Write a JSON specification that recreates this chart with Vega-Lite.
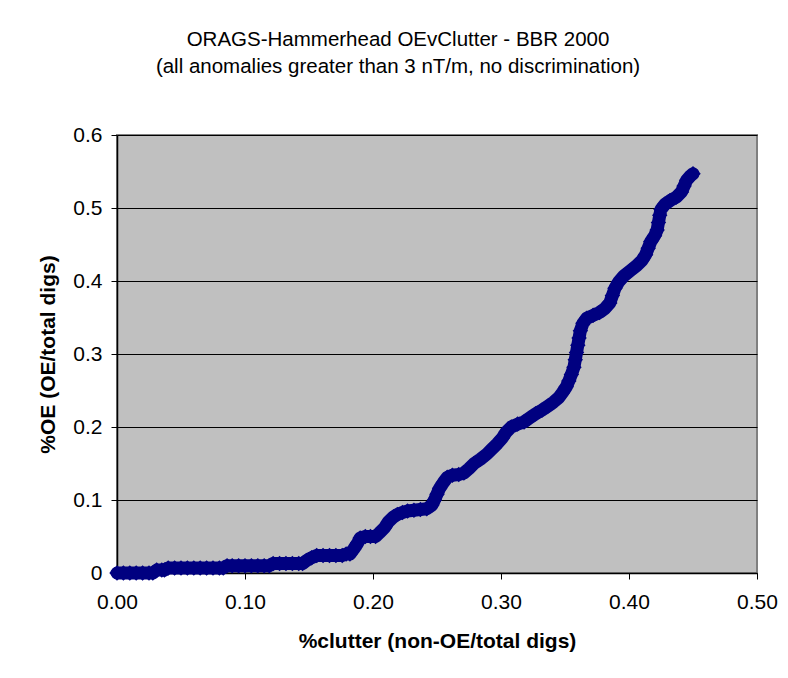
{
  "$schema": "https://vega.github.io/schema/vega-lite/v6.json",
  "width": 640,
  "height": 438,
  "autosize": "none",
  "padding": {"left": 117, "top": 135, "right": 31, "bottom": 105},
  "background": "white",
  "title": {
    "text": ["ORAGS-Hammerhead OEvClutter - BBR 2000", "(all anomalies greater than 3 nT/m, no discrimination)"],
    "font": "Liberation Sans",
    "fontSize": 20.5,
    "fontWeight": "normal",
    "color": "#000000",
    "lineHeight": 27,
    "anchor": "middle",
    "frame": "group",
    "dx": -39,
    "offset": 47
  },
  "config": {
    "view": {"fill": "#C0C0C0", "stroke": "#808080", "strokeWidth": 2},
    "axis": {
      "labelFont": "Liberation Sans",
      "titleFont": "Liberation Sans",
      "labelFontSize": 21,
      "titleFontSize": 21,
      "labelColor": "#000000",
      "titleColor": "#000000",
      "tickColor": "#000000",
      "domainColor": "#000000",
      "domainWidth": 1.5,
      "tickSize": 6,
      "tickWidth": 1
    }
  },
  "data": {
    "values": [
      {"clutter": 0.000, "oe": 0.000}, {"clutter": 0.005, "oe": 0.000}, {"clutter": 0.010, "oe": 0.000},
      {"clutter": 0.015, "oe": 0.000}, {"clutter": 0.020, "oe": 0.000}, {"clutter": 0.025, "oe": 0.000},
      {"clutter": 0.028, "oe": 0.000}, {"clutter": 0.031, "oe": 0.004}, {"clutter": 0.035, "oe": 0.004},
      {"clutter": 0.037, "oe": 0.004}, {"clutter": 0.040, "oe": 0.007}, {"clutter": 0.045, "oe": 0.007},
      {"clutter": 0.050, "oe": 0.007}, {"clutter": 0.055, "oe": 0.007}, {"clutter": 0.060, "oe": 0.007},
      {"clutter": 0.065, "oe": 0.007}, {"clutter": 0.070, "oe": 0.007}, {"clutter": 0.075, "oe": 0.007},
      {"clutter": 0.080, "oe": 0.007}, {"clutter": 0.083, "oe": 0.007}, {"clutter": 0.086, "oe": 0.010},
      {"clutter": 0.090, "oe": 0.010}, {"clutter": 0.095, "oe": 0.010}, {"clutter": 0.100, "oe": 0.010},
      {"clutter": 0.105, "oe": 0.010}, {"clutter": 0.110, "oe": 0.010}, {"clutter": 0.115, "oe": 0.010},
      {"clutter": 0.119, "oe": 0.010}, {"clutter": 0.122, "oe": 0.013}, {"clutter": 0.127, "oe": 0.013},
      {"clutter": 0.132, "oe": 0.013}, {"clutter": 0.137, "oe": 0.013}, {"clutter": 0.142, "oe": 0.013},
      {"clutter": 0.145, "oe": 0.013}, {"clutter": 0.148, "oe": 0.017}, {"clutter": 0.152, "oe": 0.021},
      {"clutter": 0.156, "oe": 0.024}, {"clutter": 0.161, "oe": 0.024}, {"clutter": 0.166, "oe": 0.024},
      {"clutter": 0.171, "oe": 0.024}, {"clutter": 0.176, "oe": 0.024}, {"clutter": 0.179, "oe": 0.026},
      {"clutter": 0.182, "oe": 0.026}, {"clutter": 0.185, "oe": 0.033}, {"clutter": 0.188, "oe": 0.041},
      {"clutter": 0.190, "oe": 0.048}, {"clutter": 0.194, "oe": 0.050}, {"clutter": 0.198, "oe": 0.050},
      {"clutter": 0.202, "oe": 0.050}, {"clutter": 0.205, "oe": 0.055}, {"clutter": 0.209, "oe": 0.062},
      {"clutter": 0.212, "oe": 0.070}, {"clutter": 0.216, "oe": 0.077}, {"clutter": 0.219, "oe": 0.080},
      {"clutter": 0.223, "oe": 0.083}, {"clutter": 0.227, "oe": 0.085}, {"clutter": 0.232, "oe": 0.086},
      {"clutter": 0.237, "oe": 0.087}, {"clutter": 0.242, "oe": 0.088}, {"clutter": 0.246, "oe": 0.093},
      {"clutter": 0.248, "oe": 0.100}, {"clutter": 0.250, "oe": 0.108}, {"clutter": 0.252, "oe": 0.116},
      {"clutter": 0.255, "oe": 0.124}, {"clutter": 0.258, "oe": 0.131}, {"clutter": 0.262, "oe": 0.134},
      {"clutter": 0.267, "oe": 0.135}, {"clutter": 0.271, "oe": 0.137}, {"clutter": 0.275, "oe": 0.143},
      {"clutter": 0.279, "oe": 0.150}, {"clutter": 0.284, "oe": 0.156}, {"clutter": 0.289, "oe": 0.163},
      {"clutter": 0.293, "oe": 0.170}, {"clutter": 0.297, "oe": 0.177}, {"clutter": 0.301, "oe": 0.185},
      {"clutter": 0.304, "oe": 0.193}, {"clutter": 0.308, "oe": 0.200}, {"clutter": 0.313, "oe": 0.204},
      {"clutter": 0.318, "oe": 0.207}, {"clutter": 0.322, "oe": 0.212}, {"clutter": 0.327, "oe": 0.218},
      {"clutter": 0.332, "oe": 0.223}, {"clutter": 0.337, "oe": 0.229}, {"clutter": 0.341, "oe": 0.234},
      {"clutter": 0.345, "oe": 0.240}, {"clutter": 0.348, "oe": 0.247}, {"clutter": 0.351, "oe": 0.255},
      {"clutter": 0.353, "oe": 0.263}, {"clutter": 0.355, "oe": 0.272}, {"clutter": 0.357, "oe": 0.282},
      {"clutter": 0.358, "oe": 0.292}, {"clutter": 0.359, "oe": 0.302}, {"clutter": 0.360, "oe": 0.312},
      {"clutter": 0.361, "oe": 0.322}, {"clutter": 0.362, "oe": 0.332}, {"clutter": 0.364, "oe": 0.342},
      {"clutter": 0.367, "oe": 0.349}, {"clutter": 0.372, "oe": 0.353}, {"clutter": 0.377, "oe": 0.357},
      {"clutter": 0.381, "oe": 0.362}, {"clutter": 0.385, "oe": 0.370}, {"clutter": 0.387, "oe": 0.380},
      {"clutter": 0.389, "oe": 0.390}, {"clutter": 0.392, "oe": 0.399}, {"clutter": 0.396, "oe": 0.407},
      {"clutter": 0.401, "oe": 0.414}, {"clutter": 0.406, "oe": 0.421}, {"clutter": 0.410, "oe": 0.428},
      {"clutter": 0.413, "oe": 0.436}, {"clutter": 0.415, "oe": 0.445}, {"clutter": 0.417, "oe": 0.454},
      {"clutter": 0.420, "oe": 0.462}, {"clutter": 0.422, "oe": 0.470}, {"clutter": 0.423, "oe": 0.480},
      {"clutter": 0.424, "oe": 0.490}, {"clutter": 0.425, "oe": 0.498}, {"clutter": 0.428, "oe": 0.505},
      {"clutter": 0.432, "oe": 0.510}, {"clutter": 0.437, "oe": 0.515}, {"clutter": 0.441, "oe": 0.522},
      {"clutter": 0.443, "oe": 0.530}, {"clutter": 0.445, "oe": 0.538}, {"clutter": 0.448, "oe": 0.544},
      {"clutter": 0.450, "oe": 0.547}
    ]
  },
  "encoding": {
    "x": {
      "field": "clutter",
      "type": "quantitative",
      "scale": {"domain": [0, 0.5], "nice": false, "zero": false},
      "axis": {
        "title": "%clutter (non-OE/total digs)",
        "values": [0, 0.1, 0.2, 0.3, 0.4, 0.5],
        "format": ".2f",
        "grid": false,
        "labelPadding": 12,
        "titlePadding": 18,
        "labelFlush": false
      }
    },
    "y": {
      "field": "oe",
      "type": "quantitative",
      "scale": {"domain": [0, 0.6], "nice": false},
      "axis": {
        "title": "%OE (OE/total digs)",
        "values": [0, 0.1, 0.2, 0.3, 0.4, 0.5, 0.6],
        "labelExpr": "datum.value == 0 ? '0' : format(datum.value, '.1f')",
        "grid": true,
        "gridColor": "#000000",
        "gridWidth": 1,
        "gridOpacity": 1,
        "labelPadding": 9,
        "titlePadding": 14,
        "labelFlush": false
      }
    }
  },
  "layer": [
    {
      "mark": {"type": "line", "color": "#000080", "strokeWidth": 13, "strokeJoin": "round", "strokeCap": "round", "clip": false}
    },
    {
      "mark": {"type": "point", "shape": "diamond", "filled": true, "color": "#000080", "opacity": 1, "size": 240, "clip": false}
    }
  ]
}
